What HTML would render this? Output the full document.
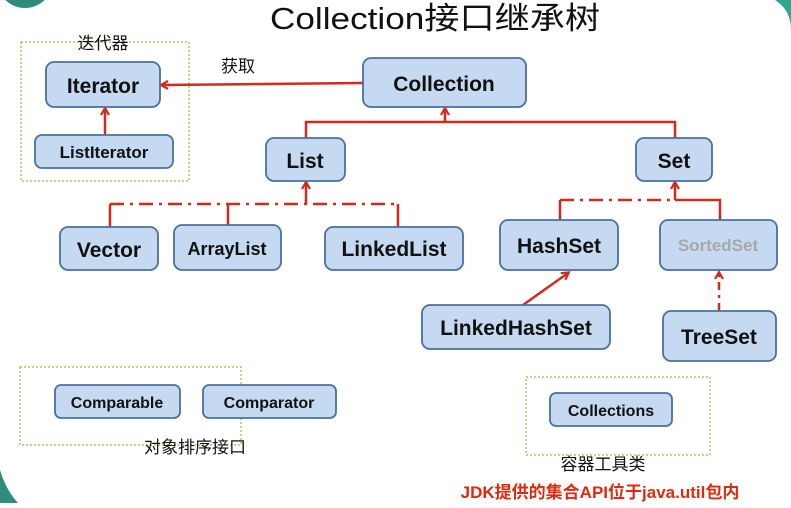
<!DOCTYPE html>
<html><head><meta charset="utf-8"><style>
body{margin:0;background:#fff;}
svg text{font-family:"Liberation Sans","Noto Sans CJK SC",sans-serif;}
</style></head><body>
<svg width="791" height="503" viewBox="0 0 791 503" xmlns="http://www.w3.org/2000/svg">
<defs>
<marker id="a" markerWidth="10" markerHeight="10" refX="7" refY="5" orient="auto" markerUnits="userSpaceOnUse"><path d="M1,1 L8,5 L1,9" fill="none" stroke="#d42a1a" stroke-width="2.2"/></marker>
</defs>
<rect width="791" height="503" fill="#fff"/>
<circle cx="25" cy="-20" r="28" fill="#2e8c7c"/>
<path d="M775,0 Q791,10 791,30 L791,0Z" fill="#2ea890"/>
<path d="M0,470 Q6,490 18,503 L0,503Z" fill="#2e8c7c"/>
<text x="435" y="29" font-size="31" text-anchor="middle" fill="#111" textLength="330" lengthAdjust="spacingAndGlyphs">Collection接口继承树</text>
<g fill="none" stroke="#8ac43a" stroke-width="1.2" stroke-dasharray="2,2">
<rect x="21" y="42" width="168" height="139"/>
<rect x="20" y="367" width="221" height="78"/>
<rect x="526" y="377" width="184" height="78"/>
</g>
<g font-size="17" fill="#111" text-anchor="middle">
<text x="103" y="49">迭代器</text>
<text x="238" y="72">获取</text>
<text x="195" y="453">对象排序接口</text>
<text x="603" y="470">容器工具类</text>
</g>
<text x="600" y="498" font-size="17" font-weight="bold" fill="#e02a10" text-anchor="middle">JDK提供的集合API位于java.util包内</text>
<g stroke="#d42a1a" stroke-width="2.5" fill="none">
<line x1="363" y1="83" x2="162" y2="85" marker-end="url(#a)"/>
<line x1="105" y1="135" x2="105" y2="109" marker-end="url(#a)"/>
<polyline points="306,138 306,122 675,122 675,138"/>
<line x1="445" y1="122" x2="445" y2="109" marker-end="url(#a)"/>
<line x1="110" y1="204" x2="398" y2="204" stroke-dasharray="14,6,3,6"/>
<line x1="110" y1="204" x2="110" y2="227"/>
<line x1="228" y1="204" x2="228" y2="225"/>
<line x1="398" y1="204" x2="398" y2="227"/>
<line x1="306" y1="204" x2="306" y2="183" marker-end="url(#a)"/>
<line x1="560" y1="200" x2="675" y2="200" stroke-dasharray="14,6,3,6"/>
<line x1="560" y1="200" x2="560" y2="220"/>
<polyline points="675,200 720,200 720,220"/>
<line x1="675" y1="200" x2="675" y2="183" marker-end="url(#a)"/>
<line x1="523" y1="305" x2="568" y2="273" marker-end="url(#a)"/>
<line x1="719" y1="311" x2="719" y2="273" stroke-dasharray="8,5,3,5" marker-end="url(#a)"/>
</g>
<g fill="#c5d9f1" stroke="#4a6fa0" stroke-width="1.8">
<rect x="46" y="62" width="114" height="45" rx="8"/>
<rect x="35" y="135" width="138" height="33" rx="7"/>
<rect x="363" y="58" width="163" height="49" rx="8"/>
<rect x="266" y="138" width="79" height="43" rx="8"/>
<rect x="636" y="138" width="76" height="43" rx="8"/>
<rect x="60" y="227" width="98" height="43" rx="8"/>
<rect x="174" y="225" width="107" height="45" rx="8"/>
<rect x="325" y="227" width="138" height="43" rx="8"/>
<rect x="500" y="220" width="118" height="50" rx="8"/>
<rect x="660" y="220" width="117" height="50" rx="8"/>
<rect x="422" y="305" width="188" height="44" rx="8"/>
<rect x="663" y="311" width="113" height="50" rx="8"/>
<rect x="55" y="385" width="125" height="33" rx="6"/>
<rect x="203" y="385" width="133" height="33" rx="6"/>
<rect x="550" y="393" width="122" height="33" rx="6"/>
</g>
<g font-weight="bold" fill="#111" text-anchor="middle">
<text x="103" y="93" font-size="21">Iterator</text>
<text x="104" y="158" font-size="17">ListIterator</text>
<text x="444" y="91" font-size="21">Collection</text>
<text x="305" y="168" font-size="21">List</text>
<text x="674" y="168" font-size="21">Set</text>
<text x="109" y="257" font-size="21">Vector</text>
<text x="227" y="255" font-size="18">ArrayList</text>
<text x="394" y="256" font-size="21">LinkedList</text>
<text x="559" y="253" font-size="21">HashSet</text>
<text x="718" y="251" font-size="17" fill="#a8a8a8">SortedSet</text>
<text x="516" y="335" font-size="21">LinkedHashSet</text>
<text x="719" y="344" font-size="21">TreeSet</text>
<text x="117" y="408" font-size="16">Comparable</text>
<text x="269" y="408" font-size="16">Comparator</text>
<text x="611" y="416" font-size="16">Collections</text>
</g>
</svg>
</body></html>
